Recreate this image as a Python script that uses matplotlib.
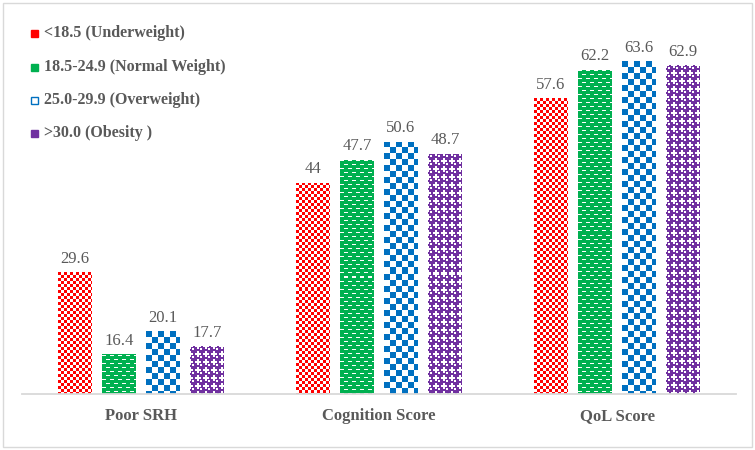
import numpy as np
import matplotlib
matplotlib.use("Agg")
import matplotlib.pyplot as plt
from matplotlib.patches import Rectangle

categories = ["Poor SRH", "Cognition Score", "QoL Score"]
series_names = ["<18.5 (Underweight)", "18.5-24.9 (Normal Weight)",
                "25.0-29.9 (Overweight)", ">30.0 (Obesity )"]
underweight = [29.6, 44, 57.6]
normal = [16.4, 47.7, 62.2]
overweight = [20.1, 50.6, 63.6]
obesity = [17.7, 48.7, 62.9]
series_values = [underweight, normal, overweight, obesity]

colors = ["#FF0000", "#00B050", "#0070C0", "#7030A0"]
patterns = ["small_check", "dash", "large_check", "sphere"]
TEXT = "#595959"
SERIF = ["Liberation Serif", "DejaVu Serif"]

W, H = 755, 450
fig = plt.figure(figsize=(W / 100, H / 100), dpi=100)
ax = fig.add_axes([22 / W, 56 / H, 714 / W, 372.6 / H])
ylim = (10, 70)
ax.set_xlim(-0.5, len(categories) - 0.5)
ax.set_ylim(*ylim)

def hex_rgb(c):
    c = c.lstrip("#")
    return np.array([int(c[i:i + 2], 16) for i in (0, 2, 4)], dtype=float) / 255.0

def make_pattern(kind, color, h, w):
    yy, xx = np.mgrid[0:h, 0:w]
    if kind == "small_check":
        mask = ((xx // 3 + yy // 3) % 2) == 0
    elif kind == "large_check":
        mask = ((xx // 6 + yy // 6) % 2) == 0
    elif kind == "dash":
        tx, ty = xx % 8, yy % 8
        white = ((ty == 1) & (tx < 4)) | ((ty == 5) & (tx >= 4))
        mask = ~white
    else:  # sphere
        tx, ty = xx % 8, yy % 8
        d = (tx - 3.5) ** 2 + (ty - 3.5) ** 2
        mask = d < 13
        highlight = ((tx == 2) | (tx == 3)) & ((ty == 2) | (ty == 3))
        mask = mask & ~highlight
    rgb = hex_rgb(color)
    img = np.ones((h, w, 3))
    img[mask] = rgb
    return img

n = len(series_values)
width = 34 / 238
step = 44 / 238
x = np.arange(len(categories))

for i, (vals, col, pat) in enumerate(zip(series_values, colors, patterns)):
    pos = x + (i - (n - 1) / 2) * step
    bars = ax.bar(pos, vals, width=width, color="none", edgecolor="none", zorder=2)
    for b, v in zip(bars, vals):
        x0 = b.get_x()
        x1 = x0 + b.get_width()
        yb = max(b.get_y(), ylim[0])
        yt = b.get_y() + b.get_height()
        p0 = ax.transData.transform((x0, yb))
        p1 = ax.transData.transform((x1, yt))
        wp = max(1, int(round(p1[0] - p0[0])))
        hp = max(1, int(round(p1[1] - p0[1])))
        img = make_pattern(pat, col, hp, wp)
        im = ax.imshow(img, extent=(x0, x1, yb, yt), aspect="auto",
                       interpolation="nearest", origin="upper", zorder=2)
        im.set_clip_path(b)
        ax.annotate(f"{v:g}", (b.get_x() + b.get_width() / 2, yt),
                    xytext=(0, 4), textcoords="offset points",
                    ha="center", va="bottom", color=TEXT,
                    fontsize=12, family=SERIF)

ax.set_xlim(-0.5, len(categories) - 0.5)
ax.set_ylim(*ylim)
ax.set_xticks(x)
ax.set_xticklabels(categories, fontsize=12, fontweight="bold", color=TEXT, family=SERIF)
ax.tick_params(axis="x", length=0, pad=10)
ax.set_yticks([])
for s in ["top", "right", "left"]:
    ax.spines[s].set_visible(False)
ax.spines["bottom"].set_color("#D9D9D9")
ax.spines["bottom"].set_linewidth(1.3)

# legend (manual, upper left)
legend_y = [33, 67, 100, 133]
for name, col, ly in zip(series_names, colors, legend_y):
    if col == "#0070C0":
        fc, ec = "white", col
    else:
        fc, ec = col, col
    fig.patches.append(Rectangle(((31) / W, 1 - (ly + 4) / H), 7 / W, 7 / H,
                                 transform=fig.transFigure, facecolor=fc,
                                 edgecolor=ec, linewidth=1.0))
    fig.text(44 / W, 1 - ly / H, name, ha="left", va="center",
             fontsize=11.5, fontweight="bold", color=TEXT, family=SERIF)

# outer frame
fig.patches.append(Rectangle((3 / W, 3 / H), (W - 6) / W, (H - 6) / H,
                             transform=fig.transFigure, facecolor="none",
                             edgecolor="#D9D9D9", linewidth=1.0))

fig.savefig("out.png", dpi=100)
